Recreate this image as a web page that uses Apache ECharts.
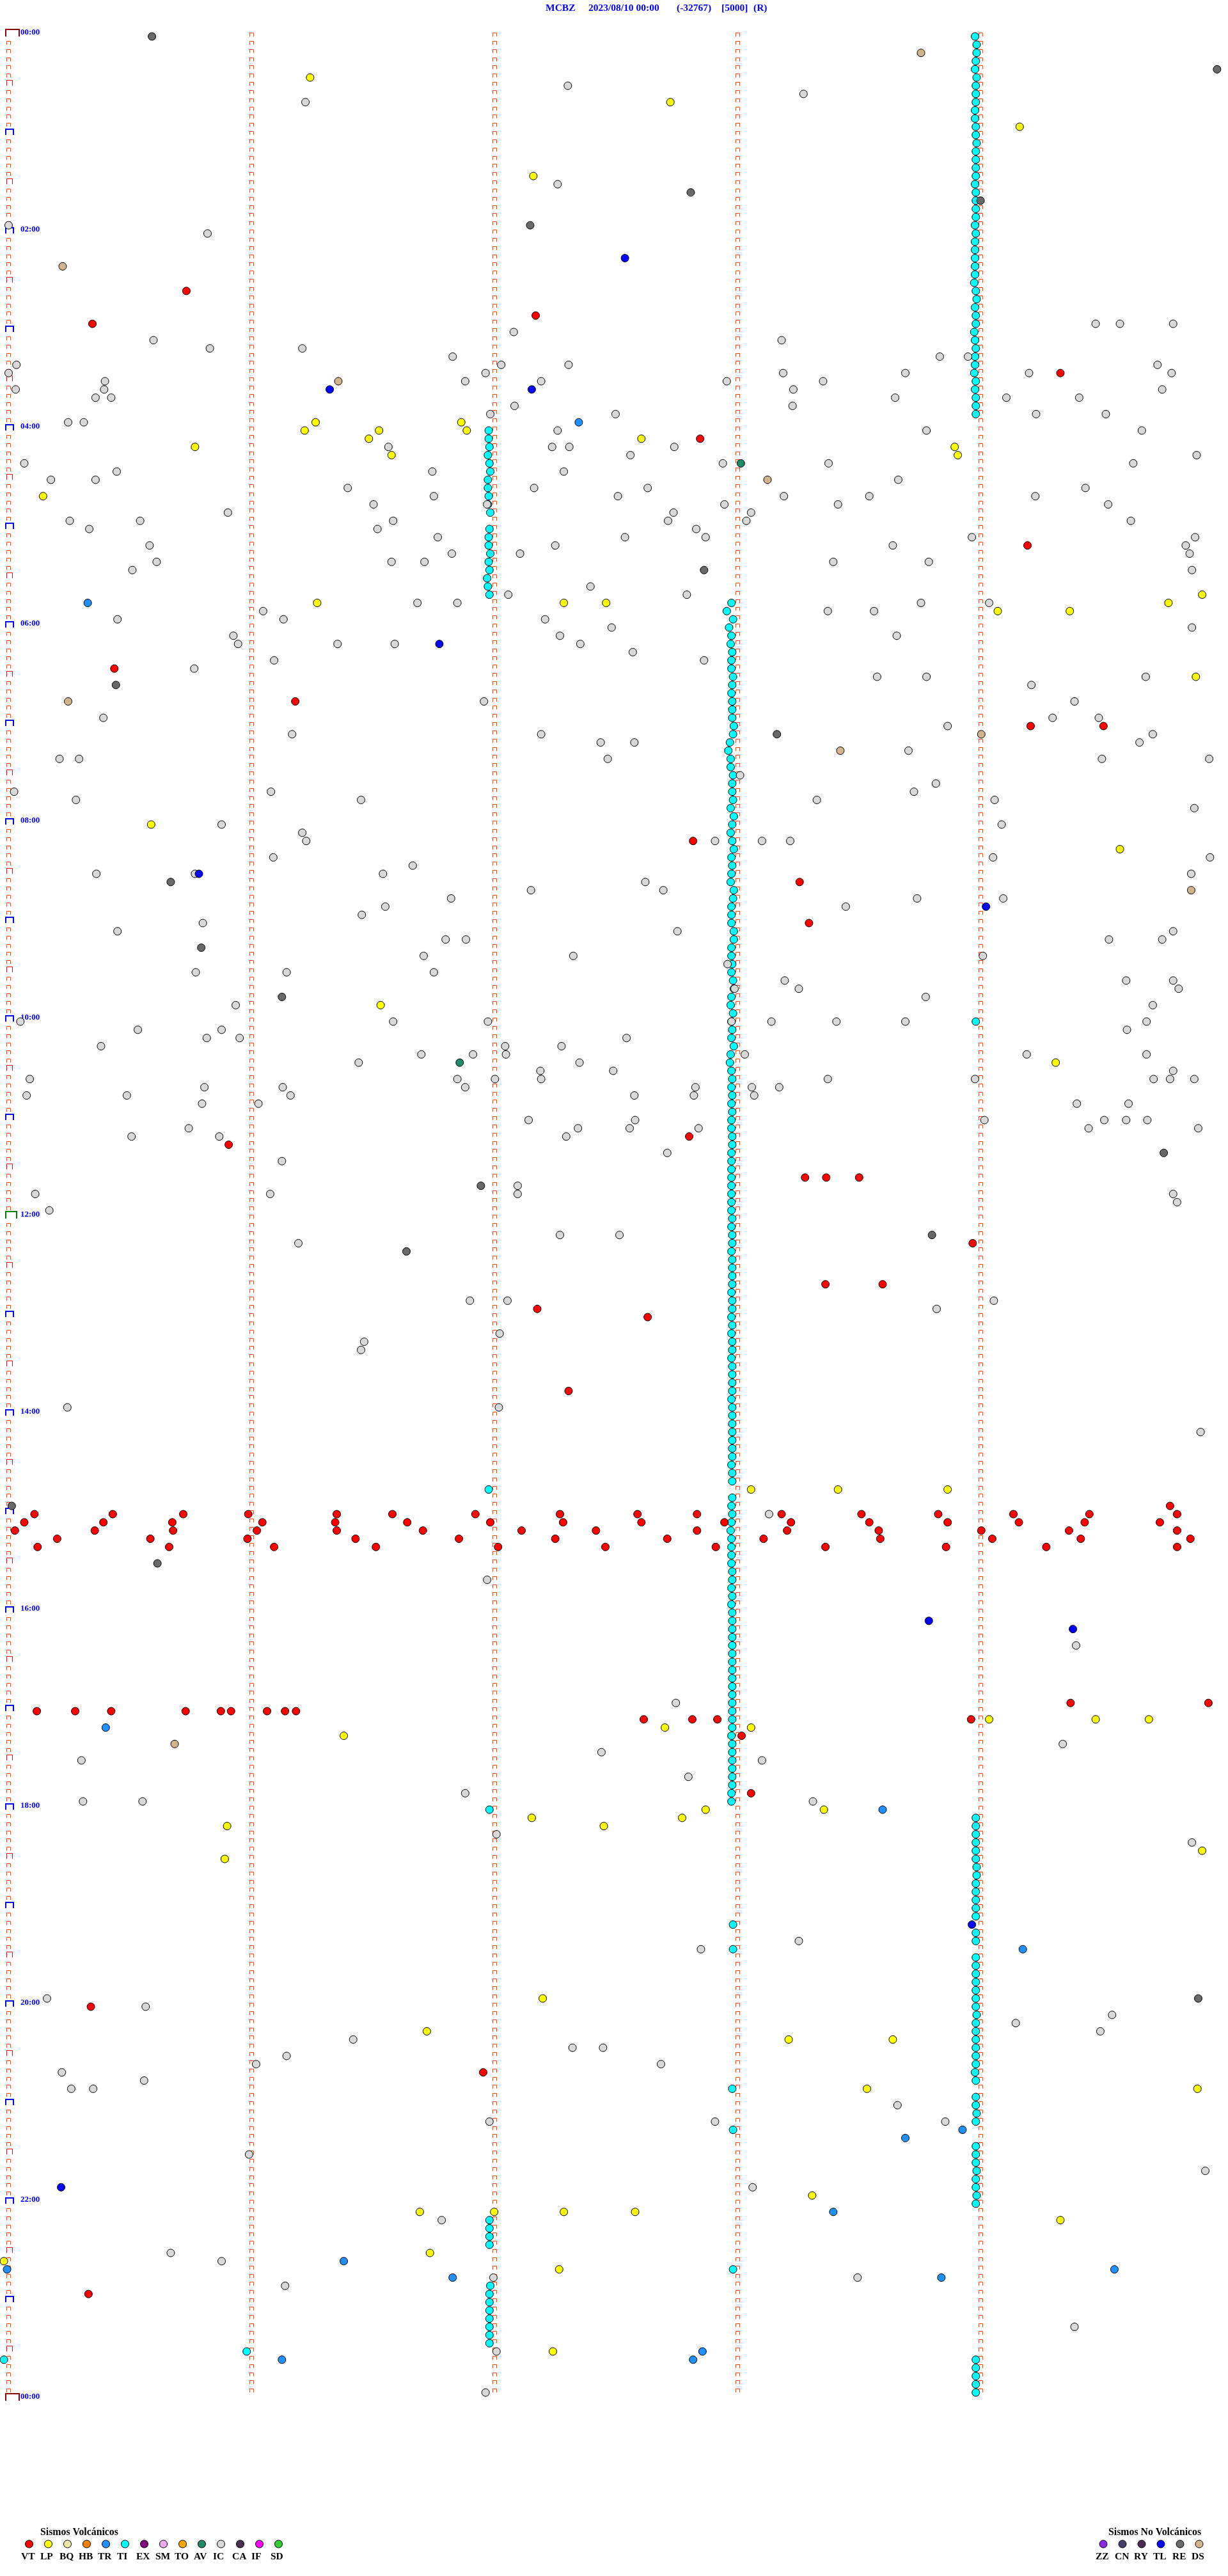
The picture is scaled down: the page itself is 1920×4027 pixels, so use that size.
<!DOCTYPE html>
<html><head><meta charset="utf-8">
<style>html,body{margin:0;padding:0;background:#fff}#c{width:1920px;height:4027px}</style>
<script src="https://cdn.jsdelivr.net/npm/echarts@6/dist/echarts.min.js"></script>
</head><body><div id="c"></div>
<script>
// Each event row: [row (5-minute line since 00:00), x offset along the line, ...]
const TI=[[0,1245],[1,1247],[2,1247],[3,1246],[4,1245],[5,1247],[6,1246],[7,1246],[8,1246],[9,1245],[10,1245],[11,1246],[12,1246],[13,1247],[14,1246],[15,1246],[16,1246],[17,1246],[18,1245],[19,1246],[20,1246],[21,1246],[22,1246],[23,1245],[24,1246],[25,1245],[26,1245],[27,1245],[28,1245],[29,1245],[30,1244],[31,1246],[32,1247],[33,1245],[34,1246],[35,1246],[36,1244],[37,1245],[38,1246],[39,1245],[40,1245],[41,1244],[42,1246],[43,1245],[44,1246],[45,1246],[46,1246],
[48,624],[49,624],[50,625],[51,623],[52,625],[53,626],[54,623],[55,623],[56,624],[57,623],[58,626],[60,625],[61,624],[62,624],[63,626],[64,624],[65,625],[66,622],[67,623],[68,625],[69,934],[70,928],
[71,936],[72,931],[73,934],[74,933],[75,935],[76,934],[77,934],[78,936],[79,935],[80,934],[81,935],[82,935],[83,935],[84,937],[85,936],[86,932],[87,930],[88,933],[89,933],[90,936],[91,935],[92,935],[93,936],[94,933],[95,937],[96,935],[97,933],[98,935],[99,937],[100,934],[101,935],[102,934],[103,933],[104,937],[105,936],[106,934],
[107,934],[108,934],[109,937],[110,937],[111,934],[112,934],[113,935],[114,934],[115,936],[116,937],[117,934],[118,933],[119,936],[120,934,1246],[121,935],[122,934],[123,937],[124,933],[125,932],[126,934],[127,935],[128,934],[129,935],[130,934],[131,935],[132,934],[133,934],[134,935],[135,935],[136,934],[137,934],[138,934],[139,934],[140,934],[141,934],[142,934],
[143,934],[144,935],[145,934],[146,935],[147,935],[148,934],[149,935],[150,935],[151,935],[152,935],[153,934],[154,935],[155,935],[156,934],[157,935],[158,934],[159,935],[160,935],[161,934],[162,935],[163,935],[164,935],[165,935],[166,934],[167,935],[168,935],[169,935],[170,935],[171,935],[172,935],[173,935],[174,934],[175,935],[176,935],[177,624],[178,935],
[179,934],[180,935],[181,934],[182,933],[183,934],[184,934],[185,934],[186,934],[187,935],[188,935],[189,934],[190,935],[191,934],[192,935],[193,935],[194,935],[195,935],[196,935],[197,935],[198,935],[199,935],[200,935],[201,935],[202,935],[203,935],[204,935],[205,935],[206,935],[207,934],[208,935],[209,935],[210,935],[211,935],[212,935],[213,935],[214,934],
[215,934],[216,625],[217,1246],[218,1246],[219,1246],[220,1246],[221,1246],[222,1246],[223,1247],[224,1247],[225,1246],[226,1246],[227,1246],[228,1246],[229,1246],[230,936],[231,1246],[232,1246],[233,936],[234,1246],[235,1246],[236,1246],[237,1246],[238,1246],[239,1246],[240,1246],[241,1247],[242,1246],[243,1246],[244,1246],[245,1246],[246,1246],[247,1246],[248,1245],[249,1246],[250,935],
[251,1246],[252,1246],[253,1247],[254,1246],[255,936],[257,1246],[258,1246],[259,1246],[260,1247],[261,1246],[262,1246],[263,1247],[264,1246],[266,625],[267,625],[268,625],[269,625],[272,936],[274,626],[275,625],[276,625],[277,625],[278,625],[279,625],[280,625],[281,625],[282,315],[283,5,1246],[284,1246],[285,1246],[286,1246],[287,1246]];
const IC=[[6,725],[7,1026],[8,390],[18,712],[23,11],[24,265],[35,1399,1430,1498],[36,656],[37,196,998],[38,268,386],[39,578,1200,1236],[40,21,640,726,1478],[41,11,620,1000,1156,1314,1496],[42,134,594,691,928,1051],[43,20,133,1013,1484],[44,122,142,1143,1285,1378],[45,657,1012],[46,626,786,1323,1412],[47,87,107],[48,712,1183,1458],[50,496,705,727,861],[51,805,1528],[52,31,923,1058,1447],[53,149,552,720],[54,65,122,1147],[55,444,682,827,1386],[56,554,789,1001,1110,1322],[57,477,622,925,1070,1415],[58,291,860,959],[59,89,179,502,853,953,1444],[60,114,482,889],[61,559,798,901,1241,1526],[62,191,709,1140,1514],[63,577,664,1519],[64,200,500,542,1064,1186],[65,169,1522],[67,754],[68,649,877],[69,533,584,1176,1263],[70,336,1057,1116],
[71,150,362,696],[72,781,1522],[73,298,715,1145],[74,304,431,504,741],[75,808],[76,350,899],[77,248],[78,1120,1183,1463],[79,1317],[81,618,1372],[83,132,1344,1403],[84,1210],[85,373,691,1472],[86,767,810,1455],[87,1160],[88,76,101,776,1407,1544],[90,945],[91,1195],[92,18,346,1167],[93,97,461,1043,1270],[94,1525],[96,283,1279],[97,386],[98,391,913,973,1009],[100,349,1268,1545],[101,527],[102,123,249,489,1521],[103,824],[104,678,847],[105,576,1171,1281],[106,492,1080],
[107,462],[108,259],[109,150,865,1498],[110,569,595,1416,1484],[112,541,732,1255],[113,929],[114,250,366,554],[115,1002,1438,1498],[116,938,1020,1505],[117,1182],[118,301,1472],[120,26,502,623,934,985,1068,1156,1464],[121,176,283,1439],[122,264,306,800],[123,129,645,717],[124,538,604,646,951,1311,1464],[125,458,740],[126,690,783,1498],[127,38,584,632,691,1057,1245,1473,1494,1525],[128,261,361,594,888,960,995],[129,34,162,371,810,886,963],[130,258,330,1375,1441],[132,675,811,1257,1410,1438,1465],[133,241,738,804,892,1390,1530],[134,168,280,723],[136,852],[137,360],[140,661],[141,45,345,661,1498],[142,1503],
[143,63],[146,715,791],[147,381],[154,600,648,1269],[155,1196],[158,638],[159,465],[160,461],[167,86,637],[170,1533],[180,982],[188,622],[196,1374],[203,863],[208,1357],[209,768],[210,104,973],[212,879],[214,594],[215,106,182,1038],[219,634],[220,1522],[232,1020],[233,895],[239,60],[240,186],[241,1420],[242,1297],[243,1405],[244,451],[245,731,770],[246,366],[247,327,844],[248,79],[249,184],[250,91,119],[252,1146],[254,625,913,1207],[258,318],[260,1539],[262,961],[266,564],[270,218],[271,283],[273,630,1095],[274,364],[279,1372],[282,634],[287,620]];
const DS=[[2,1176],[28,80],[42,432],[54,980],[81,87],[85,1253],[87,1073],[104,1521],[208,223]];
const TR=[[47,739],[69,112],[206,135],[216,1127],[233,1306],[255,1229],[256,1156],[265,1064],[271,439],[272,9,1423],[273,578,1202],[282,897],[283,360,885]];
const LP=[[5,396],[8,856],[11,1302],[17,681],[47,403,589],[48,389,484,596],[49,471,819],[50,249,1219],[51,500,1223],[56,55],[68,1535],[69,405,720,774,1492],[70,1274,1366],[78,1527],[96,193],[99,1430],[118,486],[125,1348],[177,959,1070,1210],[205,1263,1399,1467],[206,849,959],[207,439],[216,901,1052],[217,679,871],[218,290,771],[221,1535],[222,287],[239,693],[243,545],[244,1007,1140],[250,1107,1529],[263,1037],[265,536,631,720,811],[266,1354],[270,549],[271,5],[272,714],[282,706]];
const VT=[[31,238],[34,684],[35,118],[41,1354],[49,894],[62,1312],[77,146],[81,377],[84,1316,1409],[98,885],[103,1021],[108,1033],[134,880],[135,292],[139,1028,1055,1097],[147,1242],[152,1054,1127],[155,686],[156,827],[165,726],[179,1494],
[180,44,144,234,317,430,501,607,715,814,890,998,1100,1198,1294,1391,1503],[181,31,132,220,335,428,520,626,719,819,925,1010,1110,1210,1301,1385,1481],[182,19,121,221,328,430,540,666,761,890,1005,1122,1253,1365,1503],[183,73,192,316,454,586,709,852,975,1124,1267,1380,1520],[184,48,216,350,480,636,773,914,1054,1208,1336,1503],
[203,1367,1543],[204,47,96,142,237,282,295,341,364,378],[205,822,884,916,1240],[207,947],[214,959],[240,116],[248,617],[275,113]];
const RE=[[0,194],[4,1554],[19,882],[20,1252],[23,677],[65,899],[79,148],[85,992],[103,218],[111,257],[117,360],[136,1486],[140,614],[146,1190],[148,519],[179,15],[186,201],[239,1530]];
const AV=[[52,946],[125,587]];
const TL=[[27,798],[43,421,679],[74,561],[102,254],[106,1259],[193,1186],[194,1370],[230,1241],[262,78]];

const timeLabels=['00:00','02:00','04:00','06:00','08:00','10:00','12:00','14:00','16:00','18:00','20:00','22:00','00:00'];
const traceColumns=[10.6,320.9,631.3,941.7,1251.6];
const headerParts=[['MCBZ',853],['2023/08/10 00:00',920],['(-32767)',1058],['[5000]',1128],['(R)',1178]];
const volcanicNames=['VT','LP','BQ','HB','TR','TI','EX','SM','TO','AV','IC','CA','IF','SD'];
const volcanicColors=['#ff0000','#ffff00','#eee8aa','#ff8000','#1e90ff','#00ffff','#800080','#eeaaee','#ffa500','#1f8a6a','#d8d8d8','#4b2e50','#ff00ff','#32cd32'];
const otherNames=['ZZ','CN','RY','TL','RE','DS'];
const otherColors=['#8a2be2','#483d6b','#4b2a55','#0000ff','#696969','#d2b48c'];
const colorOf={};
volcanicNames.forEach((n,i)=>colorOf[n]=volcanicColors[i]);
otherNames.forEach((n,i)=>colorOf[n]=otherColors[i]);

const flat=rows=>rows.flatMap(([r,...xs])=>xs.map(x=>[x,r]));
const eventSeries=[['TI',TI],['IC',IC],['DS',DS],['TR',TR],['LP',LP],['VT',VT],['RE',RE],['AV',AV],['TL',TL]].map(([name,rows])=>({
  name,type:'scatter',data:flat(rows),symbol:'circle',symbolSize:12,clip:false,silent:true,z:5,
  itemStyle:{color:colorOf[name],borderColor:'#000',borderWidth:1,opacity:1}
}));

// Minute/half-hour/hour marks along each trace column
const markStyles=[
 {a:-3,b:3,h:6,c:'#ff4500',w:1},
 {a:-3,b:6,h:9,c:'#ff0000',w:1},
 {a:-4,b:8,h:9,c:'#0000ff',w:2},
 {a:-4,b:13,h:11,c:'#008000',w:2},
 {a:-4,b:17,h:11,c:'#8b0000',w:2}
];
const marks=[];
traceColumns.forEach((x,ci)=>{
  for(let r=0;r<=(ci===0?288:287);r++){
    let k=0;
    if(ci===0){ if(r===0||r===288)k=4; else if(r===144)k=3; else if(r%12===0)k=2; else if(r%6===0)k=1; }
    marks.push([x,r,k]);
  }
});
const markSeries={type:'custom',data:marks,silent:true,clip:false,z:2,encode:{x:0,y:1},
  renderItem(p,api){
    const s=markStyles[api.value(2)];
    const pt=api.coord([api.value(0),api.value(1)]);
    const o=s.w%2?0.5:0, x=Math.round(pt[0]), y=Math.round(pt[1]);
    return {type:'polyline',silent:true,
      shape:{points:[[x+s.a+o,y],[x+s.a+o,y-s.h+o],[x+s.b+o,y-s.h+o],[x+s.b+o,y]]},
      style:{stroke:s.c,fill:null,lineWidth:s.w}};
  }};

const serif='"Liberation Serif","Times New Roman",serif';
const graphic=[];
headerParts.forEach(([t,x])=>graphic.push({type:'text',left:x,top:5,silent:true,style:{text:t,fill:'#0000ff',font:'bold 15.5px '+serif}}));
function legend(title,titleX,names,colors,firstX,labelX){
  graphic.push({type:'text',left:titleX,top:3951,silent:true,style:{text:title,fill:'#000',font:'bold 15.8px '+serif}});
  names.forEach((n,i)=>{
    graphic.push({type:'circle',silent:true,shape:{cx:firstX+30*i,cy:3977,r:6},style:{fill:colors[i],stroke:'#000',lineWidth:1}});
    graphic.push({type:'text',left:labelX+30*i,top:3989,silent:true,style:{text:n,fill:'#000',font:'bold 15.5px '+serif}});
  });
}
legend('Sismos Volcánicos',63,volcanicNames,volcanicColors,45.5,33);
legend('Sismos No Volcánicos',1733,otherNames,otherColors,1725,1713);

const chart=echarts.init(document.getElementById('c'),null,{renderer:'canvas'});
chart.setOption({
  animation:false,backgroundColor:'#fff',
  grid:{left:0,right:0,top:57,height:3696,containLabel:false},
  xAxis:{type:'value',min:0,max:1568,show:false},
  yAxis:{type:'value',min:0,max:288,interval:24,inverse:true,axisLine:{show:false},axisTick:{show:false},splitLine:{show:false},
    axisLabel:{inside:true,margin:32,align:'left',verticalAlign:'bottom',showMinLabel:true,showMaxLabel:true,hideOverlap:false,color:'#0000ff',
      fontFamily:serif,fontWeight:'bold',fontSize:13,formatter:v=>timeLabels[v/24]}},
  series:[markSeries,...eventSeries],
  graphic
});
</script></body></html>
